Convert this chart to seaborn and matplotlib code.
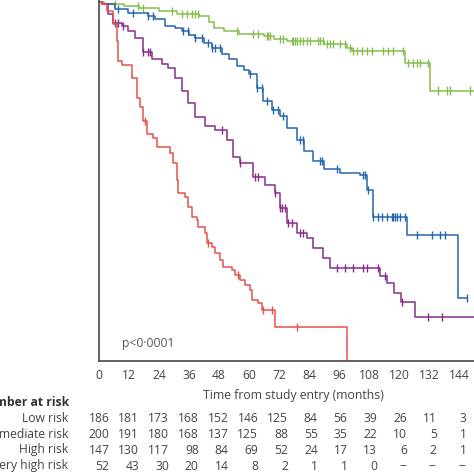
import numpy as np
import pandas as pd
import matplotlib
matplotlib.use('Agg')
import matplotlib.pyplot as plt
import matplotlib.transforms as mtransforms
import seaborn as sns

sns.set_style("white")
plt.rcParams['font.family'] = ['Open Sans', 'DejaVu Sans']

# Kaplan-Meier step points (time in months, survival)
low_t = [0, 2, 10, 16, 24, 31, 40, 44, 46, 50, 56, 66, 70, 75, 90, 99, 101, 122.5, 132.5, 150]
low_s = [1.0, 0.994, 0.989, 0.983, 0.975, 0.967, 0.961, 0.944, 0.928, 0.919, 0.911, 0.905,
         0.897, 0.892, 0.883, 0.872, 0.864, 0.83, 0.753, 0.753]

int_t = [0, 1, 6.4, 11.6, 19.6, 22.4, 26.4, 30.4, 33, 36, 38.4, 42, 45, 49, 52, 55, 58, 60,
         63, 65.6, 69, 72.4, 75, 79, 82, 85.6, 90, 96.4, 104.4, 107, 109.6, 123, 143.6, 147]
int_s = [1.0, 0.994, 0.98, 0.97, 0.961, 0.953, 0.933, 0.928, 0.919, 0.908, 0.9, 0.886, 0.872,
         0.856, 0.84, 0.822, 0.81, 0.8, 0.761, 0.725, 0.70, 0.683, 0.65, 0.614, 0.585, 0.558,
         0.535, 0.522, 0.517, 0.475, 0.40, 0.35, 0.175, 0.175]

high_t = [0, 1, 3.6, 5.6, 9.2, 11.6, 14.4, 17.6, 21.2, 25.2, 27.6, 30.4, 33.2, 35.6, 38.4,
          42.4, 46.4, 51.2, 53.6, 56.4, 61.6, 66.4, 70.4, 72.4, 75.2, 79.2, 83.2, 85.6, 89.6,
          92.4, 112.4, 115.2, 118, 120.8, 126.4, 150]
high_s = [1.0, 0.994, 0.967, 0.942, 0.933, 0.919, 0.9, 0.861, 0.842, 0.828, 0.817, 0.789,
          0.753, 0.717, 0.678, 0.653, 0.644, 0.614, 0.567, 0.55, 0.511, 0.489, 0.467, 0.425,
          0.383, 0.356, 0.342, 0.314, 0.286, 0.258, 0.236, 0.217, 0.189, 0.164, 0.122, 0.122]

vhigh_t = [0, 1.2, 3.2, 5.6, 7.2, 7.6, 9.2, 13.2, 15.2, 16.4, 17.6, 19.2, 21.6, 23.2, 28.4,
           29.6, 31.2, 31.6, 34.4, 35.6, 37.2, 39.2, 39.6, 42.4, 43.2, 45.2, 46.4, 48.4, 49.6,
           53.2, 54.4, 56.4, 58.4, 60.4, 61.2, 63.6, 65.2, 70.4, 99.2]
vhigh_s = [1.0, 0.994, 0.975, 0.939, 0.892, 0.836, 0.825, 0.789, 0.733, 0.706, 0.669, 0.631,
           0.622, 0.597, 0.578, 0.55, 0.503, 0.467, 0.456, 0.428, 0.4, 0.392, 0.372, 0.356,
           0.328, 0.317, 0.3, 0.281, 0.261, 0.253, 0.239, 0.225, 0.211, 0.197, 0.169, 0.161,
           0.142, 0.094, 0.0]

# censoring times
low_c = [6.4, 15.6, 17.6, 29.2, 33.2, 35.2, 37.2, 38.4, 39.6, 55.2, 61.6, 63.6, 67.2, 67.6,
         68.4, 72.4, 73.6, 77.2, 77.6, 78.4, 79.2, 80.4, 81.6, 83.2, 84.4, 87.6, 88.4, 89.6,
         91.2, 92.4, 93.6, 96.4, 98.4, 100.4, 101.6, 103.2, 105.2, 107.2, 109.2, 113.6, 115.6,
         117.6, 121.6, 123.6, 125.6, 127.2, 128.4, 131.6, 135.6, 139.2, 140.4, 148.4]
int_c = [7.6, 13.6, 19.6, 21.6, 33.6, 35.6, 38.4, 41.2, 43.6, 45.2, 46.4, 48.4, 60.4, 63.2,
         65.2, 67.2, 69.6, 71.6, 73.6, 80.4, 81.6, 88.4, 89.2, 95.2, 105.6, 106.4, 107.6,
         109.6, 111.6, 113.2, 115.2, 117.2, 117.6, 118.4, 119.2, 120.4, 122.4, 127.2, 133.2,
         136.4, 138.4, 147.2]
high_c = [6.4, 7.6, 9.6, 17.6, 19.6, 20.4, 49.2, 56.4, 62.4, 63.6, 70.4, 72.4, 73.2, 74.4,
          75.6, 77.2, 80.4, 81.6, 95.2, 98.4, 101.6, 105.6, 107.2, 111.6, 114.4, 121.2, 131.6,
          137.2]
vhigh_c = [18.4, 43.6, 55.6, 65.6, 69.2, 79.2]

groups = ['Low risk', 'Intermediate risk', 'High risk', 'Very high risk']
colors = ['#86bd4f', '#2466ad', '#862d87', '#e5524a']

# number at risk table
risk_times = [0, 12, 24, 36, 48, 60, 72, 84, 96, 108, 120, 132, 144]
risk_low = ['186', '181', '173', '168', '152', '146', '125', '84', '56', '39', '26', '11', '3']
risk_int = ['200', '191', '180', '168', '137', '125', '88', '55', '35', '22', '10', '5', '1']
risk_high = ['147', '130', '117', '98', '84', '69', '52', '24', '17', '13', '6', '2', '1']
risk_vhigh = ['52', '43', '30', '20', '14', '8', '2', '1', '1', '0', '--', '--', '--']

curves = [(low_t, low_s, low_c), (int_t, int_s, int_c),
          (high_t, high_s, high_c), (vhigh_t, vhigh_s, vhigh_c)]

line_rows = []
cens_rows = []
for g, (tt, ss, cc) in zip(groups, curves):
    for t, s in zip(tt, ss):
        line_rows.append({'group': g, 't': t, 's': s})
    tt_arr = np.array(tt)
    ss_arr = np.array(ss)
    for c in cc:
        idx = np.searchsorted(tt_arr, c, side='right') - 1
        cens_rows.append({'group': g, 't': c, 's': ss_arr[idx]})
df_lines = pd.DataFrame(line_rows)
df_cens = pd.DataFrame(cens_rows)
pal = dict(zip(groups, colors))

fig = plt.figure(figsize=(4.74, 4.74), dpi=100)
ax = fig.add_axes([99/474, 113/474, 375/474, 361/474])

sns.lineplot(data=df_lines, x='t', y='s', hue='group', palette=pal, estimator=None,
             sort=False, drawstyle='steps-post', linewidth=1.1, legend=False, ax=ax)
sns.scatterplot(data=df_cens, x='t', y='s', hue='group', palette=pal, marker='|', s=34,
                linewidth=1.0, legend=False, ax=ax)

ax.set_xlim(0, 150)
ax.set_ylim(0, 1.005)
ax.set_xlabel('')
ax.set_ylabel('')
for side in ['top', 'right']:
    ax.spines[side].set_visible(False)
for side in ['left', 'bottom']:
    ax.spines[side].set_color('#555555')
    ax.spines[side].set_linewidth(1.3)

ax.set_xticks(list(range(0, 145, 24)))
ax.set_xticks(list(range(12, 145, 24)), minor=True)
ax.set_xticklabels([str(v) for v in range(0, 145, 24)])
ax.set_xticklabels([str(v) for v in range(12, 145, 24)], minor=True)
ax.tick_params(axis='x', which='major', length=5, width=1.2, color='#555555',
               labelsize=8.7, labelcolor='#444444', pad=1)
ax.tick_params(axis='x', which='minor', length=3, width=1.0, color='#555555',
               labelsize=8.7, labelcolor='#444444', pad=3)
ax.set_yticks([0.2, 0.4, 0.6, 0.8, 1.0])
ax.set_yticklabels([])
ax.tick_params(axis='y', length=6, width=1.2, color='#555555')

ax.text(9.2, 0.05, 'p<0·0001', ha='left', va='center', fontsize=8.7, color='#555555')

fig.text(293/474, 1 - 395/474, 'Time from study entry (months)', ha='center', va='center',
         fontsize=8.8, color='#444444')

fig.text(69/474, 1 - 403/474, 'Number at risk', ha='right', va='center', fontsize=8.7,
         fontweight='bold', color='#333333')

trans = mtransforms.blended_transform_factory(ax.transData, fig.transFigure)
row_y = [418, 434, 450, 466]
for g, vals, yy in zip(groups, [risk_low, risk_int, risk_high, risk_vhigh], row_y):
    fig.text(68/474, 1 - yy/474, g, ha='right', va='center', fontsize=8.7, color='#444444')
    for i, (t, v) in enumerate(zip(risk_times, vals)):
        ax.text(t + 4.2 - 0.1 * i, 1 - yy/474, v, transform=trans, ha='right', va='center',
                fontsize=8.7, color='#444444', clip_on=False)

fig.savefig('out.png', dpi=100)
